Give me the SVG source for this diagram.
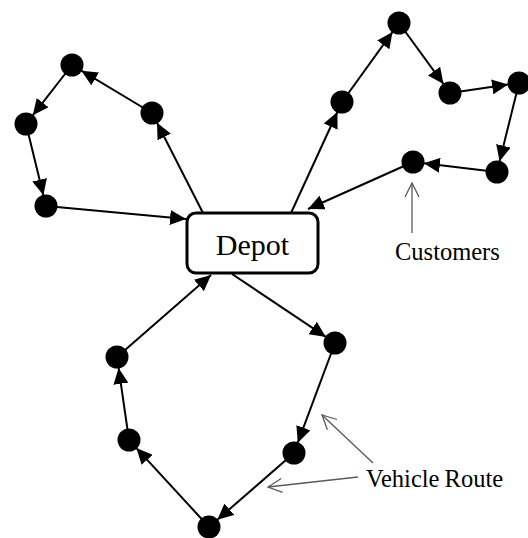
<svg xmlns="http://www.w3.org/2000/svg" width="528" height="538" viewBox="0 0 528 538">
<defs>
<style>
.route{stroke:#000;stroke-width:2;fill:none;marker-end:url(#tri)}
.cust{fill:#000}
.call{stroke:#5a5a5a;stroke-width:1.3;fill:none;marker-end:url(#open)}
.lbl{font-family:"Liberation Serif","Times New Roman",serif;fill:#000}
</style>
<marker id="tri" markerWidth="16" markerHeight="15" refX="16" refY="7.5" orient="auto" markerUnits="userSpaceOnUse">
<path d="M0,0 L16,7.5 L0,15 Z" fill="#000"/>
</marker>
<marker id="open" markerWidth="18" markerHeight="16" refX="15" refY="8" orient="auto" markerUnits="userSpaceOnUse">
<path d="M1,1 L15,8 L1,15" fill="none" stroke="#5a5a5a" stroke-width="1.3"/>
</marker>
</defs>
<g id="connectors">
<line class="route" x1="203" y1="213" x2="157" y2="122.8"/>
<line class="route" x1="152" y1="113" x2="81.4" y2="70.7"/>
<line class="route" x1="72" y1="65" x2="32.8" y2="115.3"/>
<line class="route" x1="26" y1="124" x2="43.4" y2="195.3"/>
<line class="route" x1="46" y1="206" x2="186" y2="219"/>
<line class="route" x1="291" y1="213" x2="337.4" y2="112"/>
<line class="route" x1="342" y1="102" x2="392.6" y2="31.9"/>
<line class="route" x1="399" y1="23" x2="443.5" y2="84.1"/>
<line class="route" x1="450" y1="93" x2="508.1" y2="84.6"/>
<line class="route" x1="519" y1="83" x2="499.6" y2="161.3"/>
<line class="route" x1="497" y1="172" x2="423.9" y2="163.3"/>
<line class="route" x1="413" y1="162" x2="308" y2="209"/>
<line class="route" x1="232" y1="274" x2="325.9" y2="336.9"/>
<line class="route" x1="335" y1="343" x2="297.8" y2="442.7"/>
<line class="route" x1="294" y1="453" x2="217.3" y2="519.8"/>
<line class="route" x1="209" y1="527" x2="136.4" y2="448.1"/>
<line class="route" x1="129" y1="440" x2="118.6" y2="367.9"/>
<line class="route" x1="117" y1="357" x2="211" y2="275"/>
<line class="call" x1="412" y1="233" x2="412" y2="183"/>
<line class="call" x1="373" y1="463" x2="322" y2="415"/>
<line class="call" x1="358" y1="477" x2="268" y2="487"/>
</g>
<g id="depot">
<rect x="187" y="213" width="131" height="60" rx="9" ry="9" fill="#fff" stroke="#000" stroke-width="3"/>
<text class="lbl" x="252.5" y="255" font-size="30" text-anchor="middle">Depot</text>
</g>
<g id="customer-a"><circle class="cust" cx="72" cy="65" r="11.5"/></g>
<g id="customer-b"><circle class="cust" cx="152" cy="113" r="11.5"/></g>
<g id="customer-c"><circle class="cust" cx="26" cy="124" r="11.5"/></g>
<g id="customer-d"><circle class="cust" cx="46" cy="206" r="11.5"/></g>
<g id="customer-e"><circle class="cust" cx="342" cy="102" r="11.5"/></g>
<g id="customer-f"><circle class="cust" cx="399" cy="23" r="11.5"/></g>
<g id="customer-g"><circle class="cust" cx="450" cy="93" r="11.5"/></g>
<g id="customer-h"><circle class="cust" cx="519" cy="83" r="11.5"/></g>
<g id="customer-i"><circle class="cust" cx="497" cy="172" r="11.5"/></g>
<g id="customer-j"><circle class="cust" cx="413" cy="162" r="11.5"/></g>
<g id="customer-k"><circle class="cust" cx="335" cy="343" r="11.5"/></g>
<g id="customer-l"><circle class="cust" cx="294" cy="453" r="11.5"/></g>
<g id="customer-m"><circle class="cust" cx="209" cy="527" r="11.5"/></g>
<g id="customer-n"><circle class="cust" cx="129" cy="440" r="11.5"/></g>
<g id="customer-o"><circle class="cust" cx="117" cy="357" r="11.5"/></g>
<g id="label-customers"><text class="lbl" x="395" y="260" font-size="24.5">Customers</text></g>
<g id="label-vehicle-route"><text class="lbl" x="366" y="487" font-size="24.5" word-spacing="-1">Vehicle Route</text></g>
</svg>
